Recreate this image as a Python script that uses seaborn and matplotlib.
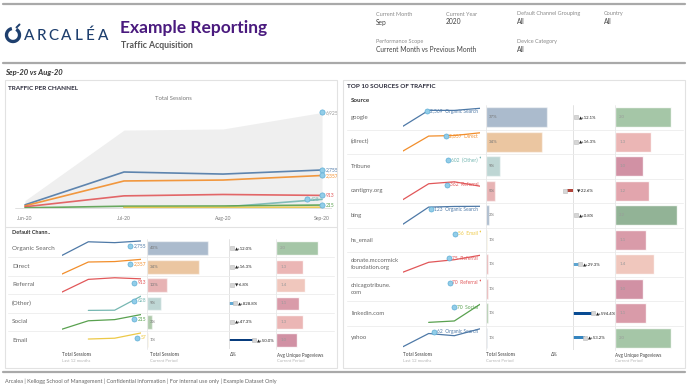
import numpy as np
import pandas as pd
import matplotlib.pyplot as plt
import seaborn as sns
from matplotlib.patches import Arc, Rectangle
from matplotlib.colors import LinearSegmentedColormap

# ==========================================
# DATA
# ==========================================
months = ['Jun-20', 'Jul-20', 'Aug-20', 'Sep-20']
channels = ['Organic Search', 'Direct', 'Referral', '(Other)', 'Social', 'Email']
channel_colors = ['#4e79a7', '#f28e2b', '#e15759', '#76b7b2', '#59a14f', '#edc948']
total_sessions = [540, 5650, 5730, 6925]
organic = [230, 2610, 2460, 2755]
direct = [160, 1960, 2027, 2357]
referral = [90, 880, 980, 913]
other = [np.nan, 60, 68, 628]
social = [15, 130, 146, 215]
email = [np.nan, 35, 38, 57]
channel_change = [12.0, 16.3, -6.8, 828.8, 47.3, 50.0]
channel_trail = [0, 0, 0, 6, 0, 25]
channel_pageviews = [2.0, 1.3, 1.4, 1.1, 1.3, 1.0]

sources = ['google', '(direct)', 'Tribune', 'cantigny.org', 'bing', 'hs_email',
           'donate.mccormick\nfoundation.org', 'chicagotribune.\ncom', 'linkedin.com', 'yahoo']
source_channel = ['Organic Search', 'Direct', '(Other)', 'Referral', 'Organic Search',
                  'Email', 'Referral', 'Referral', 'Social', 'Organic Search']
google = [200, 2300, 2292, 2569]
direct_src = [150, 1960, 2027, 2357]
tribune = [np.nan, np.nan, np.nan, 602]
cantigny = [40, 420, 467, 362]
bing = [10, 118, 122, 123]
hs_email = [np.nan, np.nan, np.nan, 56]
donate = [10, 48, 58, 75]
chicagotribune = [np.nan, np.nan, np.nan, 70]
linkedin = [np.nan, 5, 10, 70]
yahoo = [5, 47, 40, 62]
source_change = [12.1, 16.3, None, -22.6, 0.8, None, 29.3, None, 594.4, 53.2]
source_trail = [0, 0, 0, -6, 0, 0, 7, 0, 20, 12]
source_pageviews = [2.0, 1.3, 1.0, 1.2, 2.2, 1.1, 1.4, 1.0, 1.1, 2.0]

channel_trends = [organic, direct, referral, other, social, email]
source_trends = [google, direct_src, tribune, cantigny, bing, hs_email, donate,
                 chicagotribune, linkedin, yahoo]

# ==========================================
# STYLING
# ==========================================
sns.set_theme(style="white")
plt.rcParams['font.family'] = ['Lato', 'DejaVu Sans']

palette = dict(zip(channels, channel_colors))
pv_cmap = LinearSegmentedColormap.from_list('pv', [
    (0.0, '#d5728f'), (0.17, '#ea8a97'), (0.25, '#f39f9d'), (0.33, '#f8b7a8'),
    (0.6, '#d8d6b0'), (0.83, '#8fc393'), (1.0, '#78ad7f')])
MARK_FC, MARK_EC = '#92cde8', '#5eaed6'

W, H = 688, 387
fig = plt.figure(figsize=(W / 100, H / 100), dpi=100)


def panel(x0, y0, x1, y1):
    """Axes placed in pixel coords (y measured from the top)."""
    ax = fig.add_axes([x0 / W, 1 - y1 / H, (x1 - x0) / W, (y1 - y0) / H])
    ax.patch.set_alpha(0)
    return ax


bg = panel(0, 0, W, H)
bg.set_xlim(0, W)
bg.set_ylim(H, 0)
bg.set_axis_off()
bg.set_zorder(10)
renderer = fig.canvas.get_renderer()

# ==========================================
# HEADER
# ==========================================
for y in (4, 63, 372):
    bg.plot([3, 685], [y, y], color='#a9a9a9', lw=1.6)

bg.add_patch(Arc((13, 35), 13, 13, theta1=300, theta2=620, color='#1e3f6e', lw=2.4))
bg.plot([16.5, 19.5], [27.5, 24.5], color='#1e3f6e', lw=1.4)
for i, ch in enumerate('ARCALÉA'):
    bg.text(29 + i * 12.3, 35.5, ch, fontsize=11, color='#1e3f6e', ha='center', va='center',
            fontweight='medium')

bg.text(120, 28, 'Example Reporting', fontsize=12.5, fontweight='bold', color='#4a1a7e', va='center')
bg.text(121, 45, 'Traffic Acquisition', fontsize=6.3, fontweight='bold', color='#555555', va='center')

filters = [('Current Month', 'Sep', 376, 14), ('Current Year', '2020', 446, 14),
           ('Default Channel Grouping', 'All', 517, 14), ('Country', 'All', 604, 14),
           ('Performance Scope', 'Current Month vs Previous Month', 376, 41),
           ('Device Category', 'All', 517, 41)]
for lab, val, fx, fy in filters:
    bg.text(fx, fy, lab, fontsize=4, color='#8a8a8a', va='center')
    bg.text(fx, fy + 8, val, fontsize=4.8, color='#444444', va='center')

bg.text(5, 73, 'Sep-20 vs Aug-20', fontsize=5.5, fontweight='bold', fontstyle='italic',
        color='#333333', va='center')

bg.add_patch(Rectangle((5, 80), 332, 288, fill=False, ec='#e2e2e2', lw=0.8))
bg.add_patch(Rectangle((343, 80), 342, 288, fill=False, ec='#e2e2e2', lw=0.8))
bg.plot([5, 337], [227, 227], color='#e2e2e2', lw=0.8)

bg.text(8, 88, 'TRAFFIC PER CHANNEL', fontsize=4.6, fontweight='bold', color='#2b2b3b', va='center')
bg.text(347, 87, 'TOP 10 SOURCES OF TRAFFIC', fontsize=4.6, fontweight='bold', color='#2b2b3b', va='center')
bg.text(173, 99, 'Total Sessions', fontsize=4.2, color='#777777', ha='center', va='center')

bg.text(5, 381, 'Arcalea | Kellogg School of Management | Confidential Information | '
        'For internal use only | Example Dataset Only', fontsize=4, color='#666666', va='center')

# ==========================================
# AREA / LINE CHART
# ==========================================
ax = panel(15, 104, 332, 210)
trend = pd.DataFrame({'m': range(4)})
for ch, vals in zip(channels, channel_trends):
    trend[ch] = vals
long = trend.melt(id_vars='m', var_name='channel', value_name='sessions').dropna()
ax.fill_between(trend['m'], total_sessions, color='#efefef', lw=0)
sns.lineplot(data=long, x='m', y='sessions', hue='channel', palette=palette, lw=1.2,
             alpha=0.9, ax=ax, legend=False)
ax.axhline(0, color='#dcdcdc', lw=0.6)
ax.set_xlim(-10 / 99, 3 + 10 / 99)
ax.set_ylim(-145, 7540)
ax.set_xticks(range(4), months)
ax.set_yticks([])
ax.tick_params(axis='x', length=0, labelsize=3.6, colors='#777777', pad=4)
ax.set_xlabel('')
ax.set_ylabel('')
sns.despine(ax=ax, left=True, bottom=True)

end_points = [('#999999', total_sessions[-1])] + \
    [(c, v[-1]) for c, v in zip(channel_colors, channel_trends)]
for k, (col, v) in enumerate(end_points):
    if k == 6:
        continue
    xm = 2.85 if k == 4 else 3
    ax.scatter(xm, v, s=14, color=MARK_FC, edgecolor=MARK_EC, lw=0.5, zorder=5, clip_on=False)
    ax.annotate(f'{v:,.0f}', (xm, v), xytext=(2.5, 0), textcoords='offset points',
                fontsize=3.6, va='center', color=col, annotation_clip=False)


# ==========================================
# TABLE HELPERS
# ==========================================
def end_label(x_right, y, text, color):
    t = bg.text(x_right, y, text, fontsize=3.5, color=color, ha='right', va='center')
    bb = t.get_window_extent(renderer=renderer)
    xm = bb.x0 * W / fig.bbox.width
    bg.scatter(xm - 3, y, s=13, color=MARK_FC, edgecolor=MARK_EC, lw=0.5)


def sparkline(x0, x1, yc, half, vals, color):
    a = panel(x0, yc - half, x1, yc + half)
    d = pd.DataFrame({'m': range(4), 'v': vals}).dropna()
    if len(d) > 1:
        sns.lineplot(data=d, x='m', y='v', color=color, lw=0.9, ax=a)
    else:
        a.scatter(d['m'], d['v'], s=1.5, color=color, lw=0)
    a.set_xlim(0, 3)
    a.set_ylim(0, np.nanmax(vals) * 1.08)
    a.set_axis_off()


def session_bars(box, names, sessions, colors, xmax, width):
    a = panel(*box)
    d = pd.DataFrame({'name': names, 'sessions': sessions})
    sns.barplot(data=d, x='sessions', y='name', hue='name', palette=dict(zip(names, colors)),
                alpha=0.5, width=width, orient='h', ax=a, legend=False)
    a.set_xlim(0, xmax)
    a.set_ylim(len(names) - 0.5, -0.5)
    a.set_axis_off()
    for i, s in enumerate(sessions):
        a.annotate(f'{s / total_sessions[-1] * 100:.0f}%', (0, i), xytext=(2, 0),
                   textcoords='offset points', fontsize=3.2, va='center', color='#777777')


def change_col(box, zero_px, changes, trails):
    a = panel(*box)
    a.set_xlim(-(zero_px - box[0]), box[2] - zero_px)
    a.set_ylim(len(changes) - 0.5, -0.5)
    a.axvline(0, color='#dddddd', lw=0.6)
    for i, (c, t) in enumerate(zip(changes, trails)):
        if c is None:
            continue
        if t > 0:
            col = plt.cm.Blues(0.35 + 0.6 * min(t / 22, 1))
        else:
            col = '#b2443a'
        if t != 0:
            a.barh(i, t, height=0.14, color=col, lw=0)
        if t > 0:
            xs, xt = t, t + 2.5
        elif t < 0:
            xs, xt = t - 2.5, 3
        else:
            xs, xt = 2.5, 5
        a.scatter(xs, i, marker='s', s=11, color='#d6d6d6', edgecolor='#bdbdbd', lw=0.4, zorder=3)
        arrow = '▲+' if c >= 0 else '▼'
        a.annotate(f'{arrow}{c:.1f}%', (xt, i), xytext=(0.5, 0), textcoords='offset points',
                   fontsize=3.1, va='center', color='#222222')
    a.set_axis_off()


def pageview_bars(box, names, vals, xmax, width):
    a = panel(*box)
    d = pd.DataFrame({'name': names, 'pv': vals})
    cols = {n: pv_cmap((v - 1.0) / 1.2) for n, v in zip(names, vals)}
    sns.barplot(data=d, x='pv', y='name', hue='name', palette=cols, alpha=0.85, width=width,
                orient='h', ax=a, legend=False)
    a.set_xlim(0, xmax)
    a.set_ylim(len(names) - 0.5, -0.5)
    a.set_axis_off()
    for i, v in enumerate(vals):
        a.annotate(f'{v:.1f}', (0, i), xytext=(3, 0), textcoords='offset points',
                   fontsize=3.2, va='center', color='#9a9a9a')


def col_headers(items):
    for hx, l1, l2 in items:
        bg.text(hx, 355, l1, fontsize=3.3, color='#444444', va='center')
        bg.text(hx, 361, l2, fontsize=3.1, color='#b5b5b5', va='center')


# ==========================================
# LEFT TABLE: DEFAULT CHANNEL GROUPING
# ==========================================
top_l, rh_l = 239, 18.4
bot_l = top_l + rh_l * len(channels)
bg.text(12, 233, 'Default Chann..', fontsize=4, fontweight='bold', color='#333333', va='center')
for k in range(1, len(channels)):
    bg.plot([8, 334], [top_l + k * rh_l] * 2, color='#ececec', lw=0.6)
for vx in (146.5, 275.5):
    bg.plot([vx, vx], [top_l, bot_l], color='#e8e8e8', lw=0.6)

for i, (ch, col, vals) in enumerate(zip(channels, channel_colors, channel_trends)):
    yc = top_l + rh_l * (i + 0.5)
    bg.text(12, yc, ch, fontsize=4.6, color='#666666', va='center')
    sparkline(62, 141, yc, 8.5, vals, col)
    end_label(146, yc - 2.5, f'{vals[-1]:,.0f}', col)

session_bars((147, top_l, 262, bot_l), channels, [v[-1] for v in channel_trends], channel_colors,
             total_sessions[-1] * 0.754, 0.75)
change_col((222, top_l, 272, bot_l), 229, channel_change, channel_trail)
pageview_bars((276, top_l, 336, bot_l), channels, channel_pageviews, 60 / 21, 0.75)
col_headers([(62, 'Total Sessions', 'Last 12 months'), (150, 'Total Sessions', 'Current Period'),
             (230, 'Δ%', ''), (277, 'Avg Unique Pageviews', 'Current Period')])

# ==========================================
# RIGHT TABLE: TOP 10 SOURCES
# ==========================================
top_r, rh_r = 105, 24.5
bot_r = top_r + rh_r * len(sources)
bg.text(351, 100, 'Source', fontsize=4.5, fontweight='bold', color='#333333', va='center')
for k in range(1, len(sources)):
    bg.plot([347, 683], [top_r + k * rh_r] * 2, color='#ececec', lw=0.6)
for vx in (485.5, 614.5):
    bg.plot([vx, vx], [top_r, bot_r], color='#e8e8e8', lw=0.6)

src_colors = [palette[c] for c in source_channel]
for i, (src, ch, col, vals) in enumerate(zip(sources, source_channel, src_colors, source_trends)):
    yc = top_r + rh_r * (i + 0.5)
    bg.text(351, yc, src, fontsize=4.3, color='#666666', va='center', linespacing=1.4)
    sparkline(403, 480, yc, 10.5, vals, col)
    end_label(478, yc - 6, f'{vals[-1]:,.0f}  {ch}', col)

session_bars((486, top_r, 556, bot_r), sources, [v[-1] for v in source_trends], src_colors,
             total_sessions[-1] * 0.424, 0.8)
change_col((560, top_r, 612, bot_r), 573, source_change, source_trail)
pageview_bars((615, top_r, 685, bot_r), sources, source_pageviews, 2.5, 0.8)
col_headers([(403, 'Total Sessions', 'Last 12 months'), (486, 'Total Sessions', 'Current Period'),
             (551, 'Δ%', ''), (615, 'Avg Unique Pageviews', 'Current Period')])

fig.savefig('out.png', dpi=100)
